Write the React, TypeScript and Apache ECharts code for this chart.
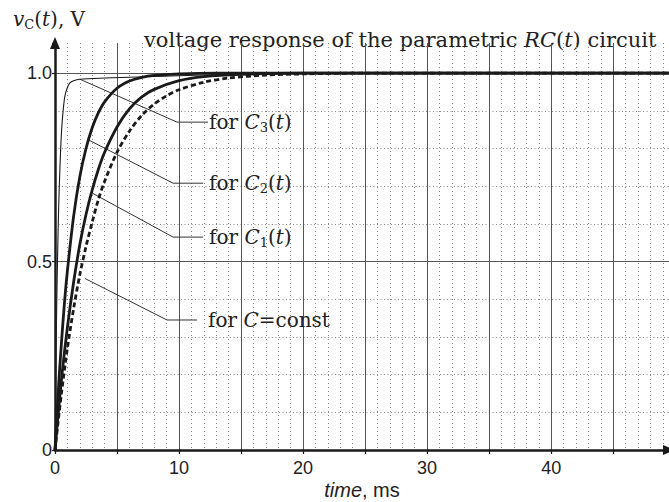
import React, { useEffect, useRef } from 'react';
import * as echarts from 'echarts';

// ---- data (time in ms, voltage in V) ----
const tC3 = [0, 0.1, 0.2, 0.3, 0.4, 0.5, 0.6, 0.7, 0.8, 1.0, 1.2, 1.5, 2, 4, 8, 12, 16, 20, 49.5];
const vC3 = [0, 0.3, 0.5, 0.65, 0.75, 0.83, 0.88, 0.915, 0.94, 0.962, 0.974, 0.98, 0.984, 0.987, 0.991, 0.995, 0.998, 1, 1];

const tC2 = [0, 0.25, 0.5, 0.75, 1, 1.5, 2, 2.5, 3, 3.5, 4, 5, 6, 7, 8, 10, 13, 49.5];
const vC2 = [0, 0.15, 0.275, 0.385, 0.475, 0.62, 0.725, 0.8, 0.855, 0.895, 0.924, 0.96, 0.979, 0.989, 0.994, 0.998, 1, 1];

const tC1 = [0, 0.5, 1, 1.5, 2, 2.5, 3, 3.5, 4, 5, 6, 7, 8, 10, 12, 15, 20, 49.5];
const vC1 = [0, 0.18, 0.325, 0.445, 0.545, 0.625, 0.69, 0.745, 0.79, 0.857, 0.905, 0.937, 0.957, 0.98, 0.991, 0.997, 1, 1];

const tConst = [0, 0.5, 1, 1.5, 2, 2.5, 3, 3.5, 4, 5, 6, 7, 8, 9, 10, 12, 14, 17, 20, 25, 49.5];
const vConst = [0, 0.145, 0.27, 0.375, 0.465, 0.54, 0.605, 0.665, 0.713, 0.79, 0.846, 0.888, 0.918, 0.94, 0.956, 0.976, 0.987, 0.995, 0.998, 1, 1];

// leader lines (annotation pointers), in data coordinates
const leaderC3T = [2.0, 9.84, 12.34];
const leaderC3V = [0.984, 0.87, 0.87];
const leaderC2T = [2.75, 9.52, 11.94];
const leaderC2V = [0.822, 0.708, 0.708];
const leaderC1T = [3.04, 9.52, 11.94];
const leaderC1V = [0.681, 0.565, 0.565];
const leaderConstT = [2.42, 9.03, 11.45];
const leaderConstV = [0.455, 0.345, 0.345];

const labelC3 = 'for {i|C}{s|3}({i|t})';
const labelC2 = 'for {i|C}{s|2}({i|t})';
const labelC1 = 'for {i|C}{s|1}({i|t})';
const labelConst = 'for {i|C}=const';

const xTickValues = [0, 10, 20, 30, 40];
const xTickLabels = ['0', '10', '20', '30', '40'];
const yTickValues = [0, 0.5, 1.0];
const yTickLabels = ['0', '0.5', '1.0'];

const X_MAX = 49.5;
const Y_MAX = 1.08;

const titleText = 'voltage response of the parametric {i|RC}({i|t}) circuit';
const yNameText = '{i|v}{s|C}({i|t}), V';
const xNameText = '{i|time}, ms';

const SANS = '"Liberation Sans", Arial, sans-serif';
const SERIF = '"DejaVu Serif", serif';
const INK = '#222';

const zip = (t: number[], v: number[]) => t.map((x, i) => [x, v[i]]);

const mkRich = (size: number) => ({
  i: { fontFamily: SERIF, fontStyle: 'italic', fontSize: size, color: INK, lineHeight: 24 },
  s: { fontFamily: SERIF, fontSize: 13, color: INK, lineHeight: 11, verticalAlign: 'bottom' },
});

function leader(t: number[], v: number[], text: string, dist: number) {
  return {
    type: 'line',
    data: zip(t, v),
    showSymbol: false,
    symbol: 'none',
    silent: true,
    z: 4,
    lineStyle: { color: '#333', width: 1 },
    endLabel: {
      show: true,
      distance: dist,
      fontFamily: SERIF,
      fontSize: 20,
      color: INK,
      lineHeight: 24,
      formatter: () => text,
      rich: mkRich(20),
    },
  };
}

export default function App() {
  const ref = useRef<HTMLDivElement>(null);
  useEffect(() => {
    const chart = echarts.init(ref.current!, null, { renderer: 'svg' });
    const curve = (name: string, t: number[], v: number[], width: number, type: any) => ({
      name, type: 'line', data: zip(t, v), showSymbol: false, symbol: 'none', smooth: 0.3, z: 5,
      lineStyle: { color: '#1a1a1a', width, type },
    });
    const option: any = {
      animation: false,
      backgroundColor: '#ffffff',
      grid: { left: 55, right: 0, top: 43, bottom: 52, containLabel: false, outerBoundsMode: 'none' },
      xAxis: [
        {
          type: 'value', min: 0, max: X_MAX, interval: 5, position: 'bottom', z: 3,
          axisLine: { show: true, onZero: false, symbol: ['none', 'triangle'], symbolSize: [10, 12], lineStyle: { color: '#1a1a1a', width: 2.5 } },
          axisTick: { show: true, length: 4, lineStyle: { color: '#1a1a1a', width: 1.2 } },
          axisLabel: {
            margin: 9, fontFamily: SANS, fontSize: 18, color: INK,
            formatter: (v: number) => { const i = xTickValues.indexOf(v); return i >= 0 ? xTickLabels[i] : ''; },
          },
          splitLine: { show: true, showMinLine: false, showMaxLine: false, lineStyle: { color: '#555', width: 1 } },
          name: xNameText, nameLocation: 'middle', nameGap: 30, nameMoveOverlap: false,
          nameTextStyle: {
            fontFamily: SANS, fontSize: 20, color: INK,
            rich: { i: { fontFamily: SANS, fontStyle: 'italic', fontSize: 20, color: INK } },
          },
        },
        {
          type: 'value', min: 0, max: X_MAX, interval: 1, position: 'bottom', z: 1,
          axisLine: { show: false }, axisTick: { show: false }, axisLabel: { show: false },
          splitLine: { show: true, showMinLine: false, showMaxLine: false, lineStyle: { color: '#888', width: 1, type: [1, 3] } },
        },
      ],
      yAxis: [
        {
          type: 'value', min: 0, max: Y_MAX, interval: 0.5, position: 'left', z: 3,
          axisLine: { show: true, onZero: false, symbol: ['none', 'triangle'], symbolSize: [10, 12], lineStyle: { color: '#1a1a1a', width: 2.5 } },
          axisTick: { show: true, length: 3, lineStyle: { color: '#1a1a1a', width: 1.2 } },
          axisLabel: {
            margin: 3, fontFamily: SANS, fontSize: 18, color: INK,
            formatter: (v: number) => { const i = yTickValues.findIndex((y) => Math.abs(y - v) < 1e-9); return i >= 0 ? yTickLabels[i] : ''; },
          },
          splitLine: { show: true, showMinLine: false, showMaxLine: false, lineStyle: { color: '#555', width: 1 } },
        },
        {
          type: 'value', min: 0, max: Y_MAX, interval: 0.1, position: 'left', z: 1,
          axisLine: { show: false }, axisTick: { show: false }, axisLabel: { show: false },
          splitLine: { show: true, showMinLine: false, showMaxLine: false, lineStyle: { color: '#888', width: 1, type: [1, 2.5] } },
        },
      ],
      graphic: [
        {
          type: 'text', x: 144, y: 40, silent: true,
          style: { text: titleText, fill: INK, fontFamily: SERIF, fontSize: 21, verticalAlign: 'middle', rich: mkRich(21) },
        },
        {
          type: 'text', x: 13, y: 19, silent: true,
          style: { text: yNameText, fill: INK, fontFamily: SERIF, fontSize: 20, verticalAlign: 'middle', rich: mkRich(20) },
        },
      ],
      series: [
        curve('C=const', tConst, vConst, 2.8, [5, 3]),
        curve('C1(t)', tC1, vC1, 2.8, 'solid'),
        curve('C2(t)', tC2, vC2, 2.8, 'solid'),
        curve('C3(t)', tC3, vC3, 1.1, 'solid'),
        leader(leaderC3T, leaderC3V, labelC3, 1),
        leader(leaderC2T, leaderC2V, labelC2, 6),
        leader(leaderC1T, leaderC1V, labelC1, 6),
        leader(leaderConstT, leaderConstV, labelConst, 11),
      ],
    };
    chart.setOption(option);
    return () => chart.dispose();
  }, []);
  return <div ref={ref} style={{ position: 'fixed', left: 0, top: 0, width: 669, height: 502 }} />;
}
